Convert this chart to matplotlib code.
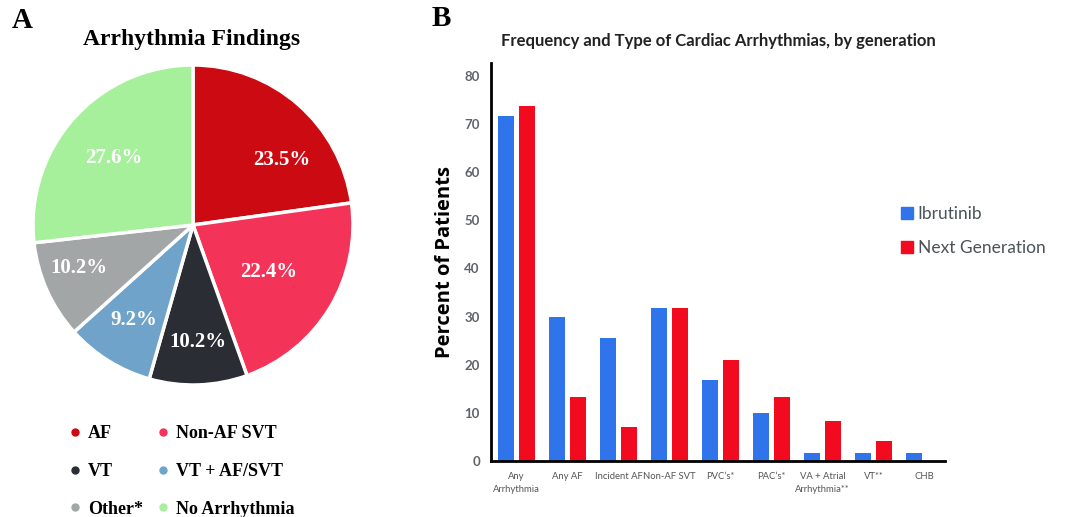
import numpy as np
import matplotlib
matplotlib.use("Agg")
import matplotlib.pyplot as plt
from matplotlib.lines import Line2D

# --- data -------------------------------------------------------------
pie_labels = ["AF", "Non-AF SVT", "VT", "VT + AF/SVT", "Other*", "No Arrhythmia"]
pie_values = [23.5, 22.4, 10.2, 9.2, 10.2, 27.6]
pie_colors = ["#CC0A12", "#F43358", "#2A2D33", "#6FA3C9", "#A3A6A6", "#A6F09C"]

categories = ["Any\nArrhythmia", "Any AF", "Incident AF", "Non-AF SVT", "PVC\u2019s*",
              "PAC\u2019s*", "VA + Atrial\nArrhythmia**", "VT**", "CHB"]
ibrutinib = [71.7, 30.0, 25.6, 31.8, 16.8, 10.0, 1.7, 1.7, 1.7]
next_gen = [73.7, 13.3, 7.0, 31.7, 20.9, 13.3, 8.4, 4.2, 0.0]
yticks = [0, 10, 20, 30, 40, 50, 60, 70, 80]

W, H = 1080, 517
fig = plt.figure(figsize=(W / 100, H / 100), dpi=100)
serif = "Liberation Serif"
sans = "Lato"

# --- panel A: pie ----------------------------------------------------
r_px = 160
cx, cy = 193, 225
axp = fig.add_axes([(cx - 1.1 * r_px) / W, (H - cy - 1.1 * r_px) / H,
                    2.2 * r_px / W, 2.2 * r_px / H])
wedges, _, autotexts = axp.pie(
    pie_values, colors=pie_colors, startangle=90, counterclock=False,
    autopct="%1.1f%%", pctdistance=0.69,
    wedgeprops=dict(edgecolor="white", linewidth=2.5))
# label spots inside the wedges (in radius units), as placed in the original
label_xy = [(0.556, 0.406), (0.475, -0.294), (0.031, -0.731),
            (-0.369, -0.594), (-0.713, -0.269), (-0.494, 0.419)]
for t, v, xy in zip(autotexts, pie_values, label_xy):
    t.set_text(f"{v}%")
    t.set_position(xy)
    t.set_color("white")
    t.set_fontfamily(serif)
    t.set_fontweight("bold")
    t.set_fontsize(15)
axp.set_xlim(-1.1, 1.1)
axp.set_ylim(-1.1, 1.1)
axp.set_aspect("equal")

fig.text(192 / W, 1 - 39 / H, "Arrhythmia Findings", ha="center", va="center",
         family=serif, weight="bold", fontsize=17)
fig.text(12 / W, 1 - 20 / H, "A", ha="left", va="center",
         family=serif, weight="bold", fontsize=21)

order = [0, 2, 4, 1, 3, 5]
handles = [Line2D([], [], marker="o", ls="", markersize=5,
                  markerfacecolor=pie_colors[i], markeredgecolor=pie_colors[i])
           for i in order]
leg = fig.legend(handles, [pie_labels[i] for i in order], ncol=2,
                 loc="upper left", bbox_to_anchor=(50 / W, 1 - 409 / H),
                 frameon=False, handletextpad=0.22, columnspacing=0.6,
                 labelspacing=1.15, handlelength=1.0,
                 prop=dict(family=serif, weight="bold", size=13))

# --- panel B: grouped bars -------------------------------------------
axb = fig.add_axes([491 / W, 56 / H, (945 - 491) / W, (461 - 63) / H])
x = np.arange(len(categories))
bw = 0.31
off = 0.206
axb.bar(x - off, ibrutinib, bw, color="#2F74EA", label="Ibrutinib")
axb.bar(x + off, next_gen, bw, color="#F20A1E", label="Next Generation")
axb.set_xlim(-0.5, 8.4)
axb.set_ylim(0, 82.7)
axb.set_yticks(yticks)
axb.set_xticks(x)
axb.set_xticklabels(categories, fontsize=6.8, color="#555555",
                    family=sans, linespacing=1.5)
for lab in axb.get_yticklabels():
    lab.set_fontsize(9.5)
    lab.set_color("#5E6468")
    lab.set_fontweight("bold")
    lab.set_family(sans)
axb.tick_params(axis="both", length=0)
axb.tick_params(axis="x", pad=8)
axb.tick_params(axis="y", pad=8)
for s in ["top", "right"]:
    axb.spines[s].set_visible(False)
for s in ["left", "bottom"]:
    axb.spines[s].set_linewidth(2)
    axb.spines[s].set_color("black")
axb.set_ylabel("Percent of Patients", family="Open Sans", weight="bold",
               fontsize=14.5, labelpad=7)
axb.set_title("Frequency and Type of Cardiac Arrhythmias, by generation",
              family=sans, weight="bold", fontsize=12, color="#222222", pad=12)
fig.text(432 / W, 1 - 18 / H, "B", ha="left", va="center",
         family=serif, weight="bold", fontsize=21)

bh = [Line2D([], [], marker="s", ls="", markersize=8, color=c)
      for c in ["#2F74EA", "#F20A1E"]]
fig.legend(bh, ["Ibrutinib", "Next Generation"], loc="upper left",
           bbox_to_anchor=(883 / W, 1 - 190 / H), frameon=False,
           handletextpad=0.1, handlelength=1.0, labelspacing=1.05,
           prop=dict(family=sans, size=12.5), labelcolor="#4A5358")

fig.savefig("out.png", dpi=100)
